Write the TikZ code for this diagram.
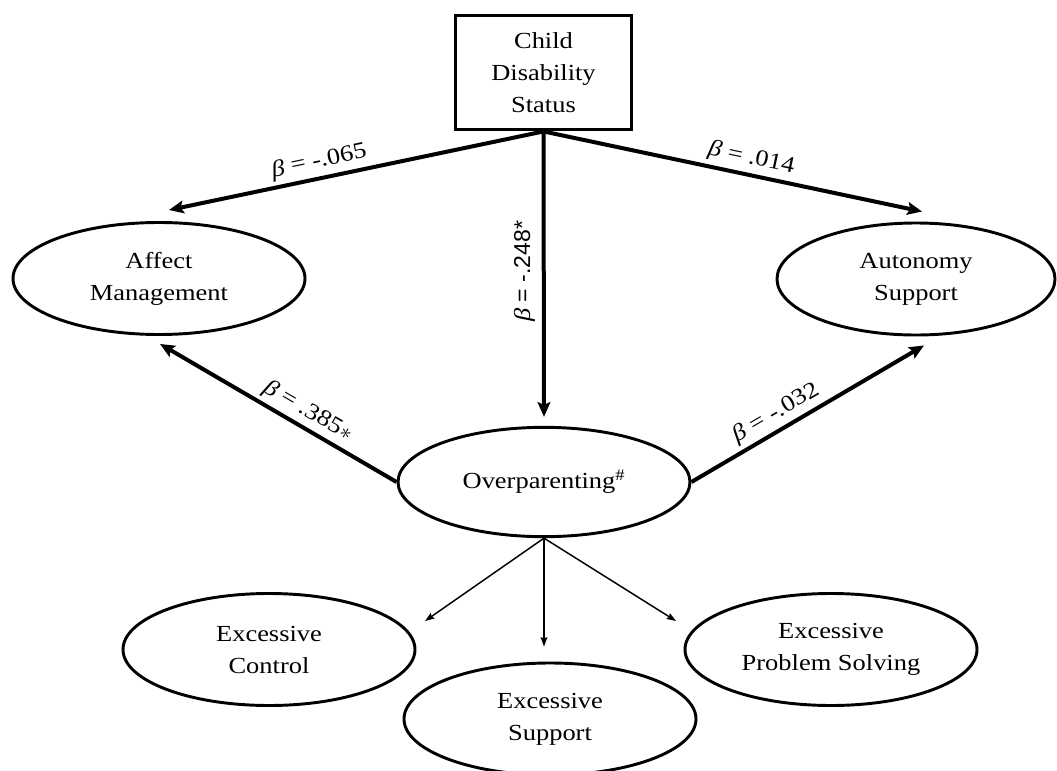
\documentclass[tikz,border=0pt]{standalone}
\usepackage{fontspec}
\setmainfont{Liberation Serif}[FakeStretch=1.15]
\newfontfamily\arialf{Liberation Sans}
\usetikzlibrary{shapes.geometric,arrows.meta,calc}
\begin{document}
\begin{tikzpicture}[x=0.75pt,y=-0.75pt,
  font=\fontsize{17.25}{24}\selectfont,
  lat/.style={ellipse, draw, line width=2.2pt, minimum width=219pt, minimum height=84pt, inner sep=0pt, align=center},
  obs/.style={rectangle, draw, line width=2.4pt, minimum width=132pt, minimum height=86pt, inner sep=0pt, align=center},
  pathar/.style={line width=3pt, -{Stealth[length=11pt,width=9.5pt,inset=2pt]}},
  indar/.style={line width=1.1pt, -{Stealth[length=7pt,width=5pt,inset=1pt]}},
  lab/.style={sloped, above=3pt, inner sep=0pt}]
\useasboundingbox (0,0) rectangle (1057,771);
\node[obs] (cds) at (543.5,72.5) {Child\\Disability\\Status};
\node[lat] (aff) at (159,278.5) {Affect\\Management};
\node[lat, minimum width=208.5pt] (aut) at (916,279) {Autonomy\\Support};
\node[lat, minimum height=82pt] (ovp) at (544,482) {Overparenting\textsuperscript{\#}};
\node[lat] (ec) at (269,649.5) {Excessive\\Control};
\node[lat] (es) at (550,719) {Excessive\\Support};
\node[lat] (eps) at (831,649.5) {Excessive\\Problem Solving};
\coordinate (affT) at ($(aff.north)+(10,-11)$);
\coordinate (autT) at ($(aut.north)+(6,-10)$);
\coordinate (ovpT) at ($(ovp.north)+(0,-9)$);
\coordinate (affB) at ($(aff.south)+(1,8)$);
\coordinate (autB) at ($(aut.south)+(8,9)$);
\coordinate (ecT) at ($(ec.center)+(156,-28.5)$);
\coordinate (esT) at ($(es.north)+(-6,-15)$);
\coordinate (epsT) at ($(eps.center)+(-155,-28.5)$);
\draw[pathar] (cds.south) -- node[lab, pos=0.59]{\textit{β} = -.065} (affT);
\draw[pathar] (cds.south) -- node[lab, pos=0.54]{\textit{β} = .014} (autT);
\draw[pathar] (cds.south) -- node[pos=0.49, rotate=90, anchor=south, inner sep=5pt]{\textit{β} {\arialf = -.248*}} (ovpT);
\draw[pathar] (ovp.west) -- node[lab, pos=0.41]{\textit{β} = .385$\ast$} (affB);
\draw[pathar] (ovp.east) -- node[lab, pos=0.40]{\textit{β} = -.032} (autB);
\draw[indar] (ovp.south) -- (ecT);
\draw[indar] (ovp.south) -- (esT);
\draw[indar] (ovp.south) -- (epsT);
\end{tikzpicture}
\end{document}
